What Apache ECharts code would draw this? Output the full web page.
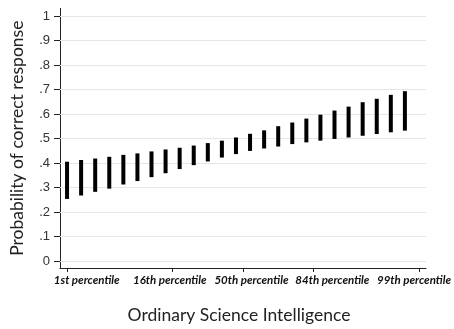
<!DOCTYPE html>
<html>
<head>
<meta charset="utf-8">
<script src="https://cdn.jsdelivr.net/npm/echarts@6/dist/echarts.min.js"></script>
<style>html,body{margin:0;padding:0;background:#fff;}#c{width:454px;height:329px;}</style>
</head>
<body>
<div id="c"></div>
<script>
// OSI position (z-score) of each interval
const xValues = [-2.5,-2.3,-2.1,-1.9,-1.7,-1.5,-1.3,-1.1,-0.9,-0.7,-0.5,-0.3,-0.1,0.1,0.3,0.5,0.7,0.9,1.1,1.3,1.5,1.7,1.9,2.1,2.3];
const upper = [.406,.413,.419,.426,.434,.440,.448,.456,.463,.472,.482,.492,.505,.520,.534,.551,.566,.582,.598,.615,.631,.649,.663,.679,.694];
const lower = [.254,.268,.283,.296,.313,.327,.343,.359,.376,.392,.407,.423,.437,.450,.460,.468,.478,.485,.492,.499,.505,.512,.519,.526,.533];
const xTickValues = [-2.5,-1,0,1,2.5];
const xTickLabels = ['1st percentile','16th percentile','50th percentile','84th percentile','99th percentile'];
const xLabelCenters = [-2.22,-1.04,0.12,1.27,2.43];
const yTickValues = [0,0.1,0.2,0.3,0.4,0.5,0.6,0.7,0.8,0.9,1];
const yTickLabels = ['0','.1','.2','.3','.4','.5','.6','.7','.8','.9','1'];

function lookup(vals, labels, v){
  let best = 0, d = Infinity;
  vals.forEach((c,i)=>{ const e = Math.abs(c - v); if (e < d){ d = e; best = i; } });
  return labels[best];
}

const chart = echarts.init(document.getElementById('c'), null, {renderer:'canvas'});
const axisColor = '#222';
chart.setOption({
  animation:false,
  grid:{left:57, right:26, top:8.4, bottom:60.6, containLabel:false},
  xAxis:[{
    type:'value', min:-2.6, max:2.6,
    axisLine:{show:true, onZero:false, lineStyle:{color:axisColor, width:1}},
    axisTick:{show:true, customValues:xTickValues, length:4, lineStyle:{color:axisColor}},
    axisLabel:{show:false},
    splitLine:{show:false},
    name:'Ordinary Science Intelligence', nameLocation:'middle', nameGap:38,
    nameTextStyle:{fontFamily:'Lato', fontSize:17.5, color:'#222', padding:[0,8,0,0]}
  },{
    type:'value', min:-2.6, max:2.6, position:'bottom',
    axisLine:{show:false, onZero:false}, axisTick:{show:false}, splitLine:{show:false},
    axisLabel:{show:true, customValues:xLabelCenters, margin:6, hideOverlap:false,
      formatter:(v)=>lookup(xLabelCenters, xTickLabels, v),
      fontFamily:'Lato', fontSize:11.5, fontWeight:'bold', fontStyle:'italic', color:'#111'}
  }],
  yAxis:{
    type:'value', min:-0.028, max:1.032,
    axisLine:{show:true, onZero:false, lineStyle:{color:axisColor, width:1}},
    axisTick:{show:true, customValues:yTickValues, length:6, lineStyle:{color:axisColor}},
    axisLabel:{show:true, customValues:yTickValues, margin:10,
      formatter:(v)=>lookup(yTickValues, yTickLabels, v),
      fontFamily:'Liberation Sans', fontSize:13, color:'#333'},
    splitLine:{show:false},
    name:'Probability of correct response', nameLocation:'middle', nameGap:34,
    nameTextStyle:{fontFamily:'Lato', fontSize:17.5, color:'#222'}
  },
  series:[{
    type:'scatter', data:[], z:1, silent:true,
    markLine:{silent:true, symbol:['none','none'], label:{show:false},
      lineStyle:{color:'#e6e6e6', width:1, type:'solid'},
      data:yTickValues.map(v=>({yAxis:v}))}
  },{
    type:'custom', z:5,
    data:xValues.map((x,i)=>[x, lower[i], upper[i]]),
    renderItem:(params, api)=>{
      const p1 = api.coord([api.value(0), api.value(2)]);
      const p2 = api.coord([api.value(0), api.value(1)]);
      return {type:'rect', shape:{x:p1[0]-2, y:p1[1], width:4, height:p2[1]-p1[1]}, style:{fill:'#000'}};
    }
  }]
});
</script>
</body>
</html>
